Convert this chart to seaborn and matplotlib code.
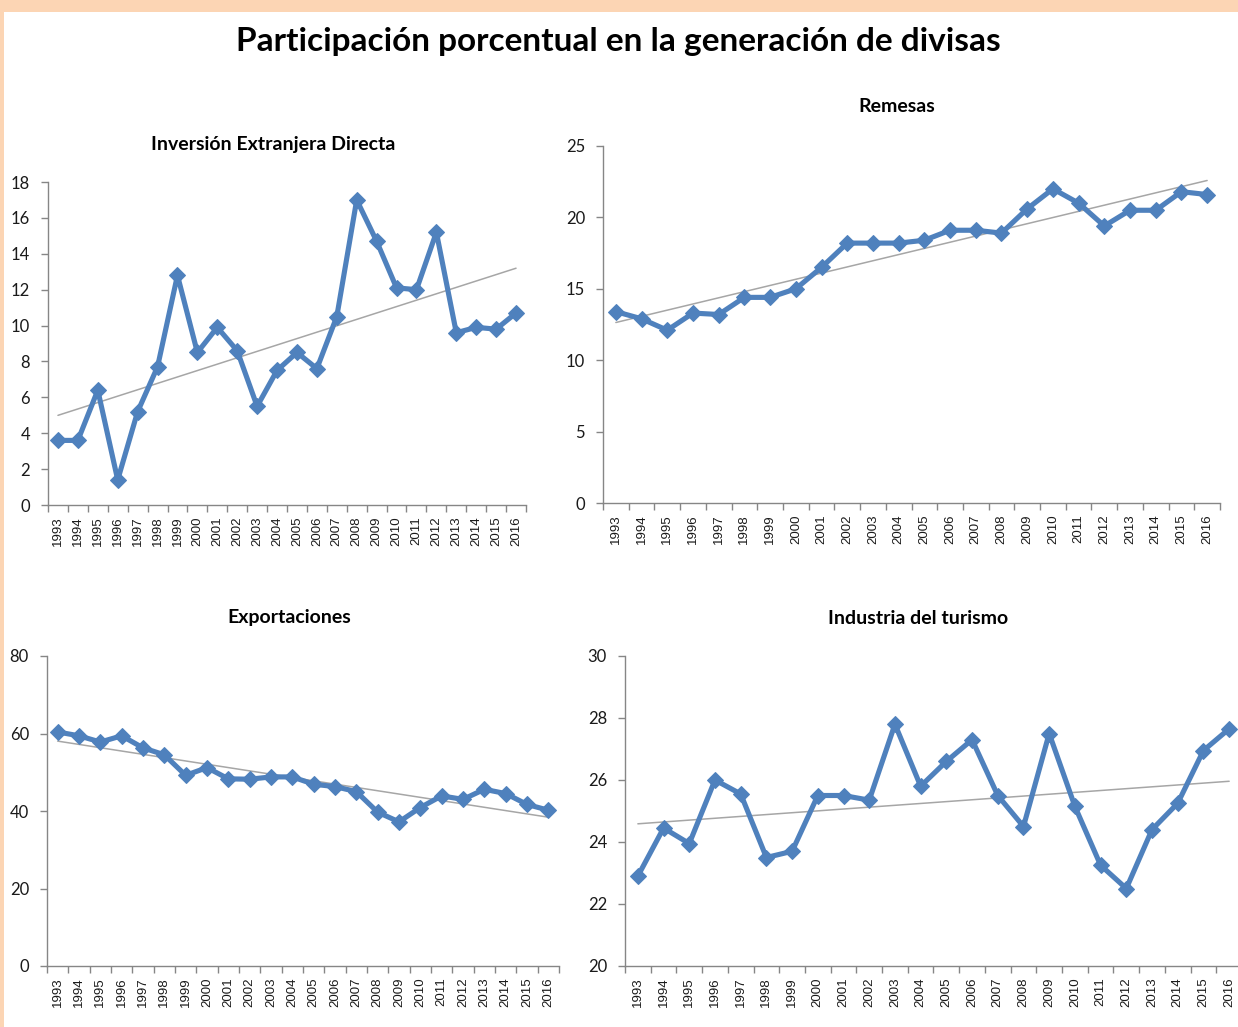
import matplotlib
matplotlib.use("Agg")
import matplotlib.pyplot as plt
from matplotlib.patches import Rectangle
from matplotlib.ticker import FixedLocator, NullFormatter
import seaborn as sns
import numpy as np
import pandas as pd

# --- data ---
years = [str(y) for y in range(1993, 2017)]

ied = [3.6, 3.6, 6.4, 1.4, 5.2, 7.7, 12.8, 8.5, 9.9, 8.6, 5.5, 7.5,
       8.5, 7.6, 10.5, 17.0, 14.7, 12.1, 12.0, 15.2, 9.6, 9.9, 9.8, 10.7]
remesas = [13.4, 12.9, 12.1, 13.3, 13.2, 14.4, 14.4, 15.0, 16.5, 18.2, 18.2, 18.2,
           18.4, 19.1, 19.1, 18.9, 20.6, 22.0, 21.0, 19.4, 20.5, 20.5, 21.8, 21.6]
exportaciones = [60.4, 59.4, 57.8, 59.4, 56.3, 54.5, 49.2, 51.2, 48.3, 48.2, 48.8, 48.8,
                 46.9, 46.3, 45.0, 39.7, 37.2, 40.9, 43.9, 43.0, 45.6, 44.5, 41.7, 40.2]
turismo = [22.9, 24.45, 23.95, 26.0, 25.55, 23.5, 23.7, 25.5, 25.5, 25.35, 27.8, 25.8,
           26.6, 27.3, 25.5, 24.5, 27.5, 25.15, 23.25, 22.5, 24.4, 25.25, 26.95, 27.65]

main_title = "Participación porcentual en la generación de divisas"
titles = ["Inversión Extranjera Directa", "Remesas", "Exportaciones", "Industria del turismo"]
series = [ied, remesas, exportaciones, turismo]
y_ticks = [np.arange(0, 19, 2), np.arange(0, 26, 5), np.arange(0, 81, 20), np.arange(20, 31, 2)]

sns.set_theme(style="white")
narrow = ["Lato", "DejaVu Sans"]
plt.rcParams["font.family"] = ["Liberation Sans", "DejaVu Sans"]

W, H = 1238, 1027
fig = plt.figure(figsize=(W / 100, H / 100), dpi=100)
fig.patch.set_facecolor("white")

# peach frame along the top and left edge
peach = "#FCD5B4"
fig.patches.append(Rectangle((0, 1 - 12 / H), 1, 12 / H, transform=fig.transFigure,
                             facecolor=peach, edgecolor="none", zorder=0))
fig.patches.append(Rectangle((0, 0), 4 / W, 1, transform=fig.transFigure,
                             facecolor=peach, edgecolor="none", zorder=0))

# axes boxes in pixels: left, top, right, bottom
boxes = [(48, 182, 526, 505), (603, 146, 1220, 503),
         (47, 656, 559, 966), (625, 656, 1242, 966)]
title_pos = [(273, 144), (897, 106), (289, 618), (918, 618)]

blue = "#4F81BD"
axis_gray = "#868686"

for vals, ttl, yt, box, tp in zip(series, titles, y_ticks, boxes, title_pos):
    l, t, r, b = box
    ax = fig.add_axes([l / W, 1 - b / H, (r - l) / W, (b - t) / H])
    df = pd.DataFrame({"x": np.arange(len(years)), "y": vals})

    # linear trend line, Excel style
    sns.regplot(data=df, x="x", y="y", ax=ax, scatter=False, ci=None,
                color="#A6A6A6", line_kws={"lw": 1.1, "zorder": 2})
    sns.lineplot(data=df, x="x", y="y", ax=ax, color=blue, lw=3.7,
                 marker="D", markersize=8.5, markeredgecolor=blue, zorder=3)

    ax.set_xlim(-0.5, len(years) - 0.5)
    ax.set_ylim(yt[0], yt[-1])
    ax.set_yticks(yt)
    ax.set_yticklabels([str(int(v)) for v in yt], family=narrow, fontsize=12,
                       color="#1a1a1a")
    ax.set_xticks(np.arange(len(years)))
    ax.set_xticklabels(years, rotation=90, fontsize=9.5, color="#1a1a1a")
    ax.xaxis.set_minor_locator(FixedLocator(np.arange(-0.5, len(years), 1.0)))
    ax.xaxis.set_minor_formatter(NullFormatter())
    ax.tick_params(axis="x", which="major", length=0, pad=8)
    ax.tick_params(axis="x", which="minor", length=5, width=1, color=axis_gray,
                   direction="out", bottom=True)
    ax.tick_params(axis="y", length=5, width=1, color=axis_gray, direction="out",
                   left=True, pad=8)
    ax.set_xlabel("")
    ax.set_ylabel("")
    for side in ["top", "right"]:
        ax.spines[side].set_visible(False)
    for side in ["left", "bottom"]:
        ax.spines[side].set_color(axis_gray)
        ax.spines[side].set_linewidth(1)
    ax.grid(False)
    ax.set_facecolor("none")

    fig.text(tp[0] / W, 1 - tp[1] / H, ttl, ha="center", va="center",
             fontsize=14, fontweight="bold", family=narrow, color="black")

fig.text(618 / W, 1 - 42 / H, main_title, ha="center", va="center",
         fontsize=24, fontweight="bold", family=narrow, color="black")

fig.savefig("out.png", dpi=100)
